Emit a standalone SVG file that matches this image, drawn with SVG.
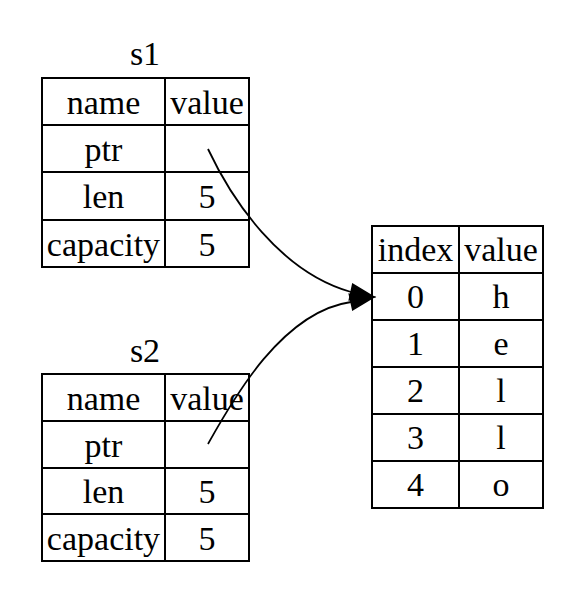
<svg xmlns="http://www.w3.org/2000/svg" width="571" height="597" viewBox="0 0 571 597">
<style>
.bg{fill:#ffffff}
.cell{fill:none;stroke:#000;stroke-width:2}
.t{font-family:"Liberation Serif","Times New Roman",serif;font-size:34px;fill:#000;text-anchor:middle}
.edge{fill:none;stroke:#000;stroke-width:1.8}
.head{fill:#000;stroke:#000;stroke-width:1.5}
</style>
<rect class="bg" x="0" y="0" width="571" height="597"/>
<g id="s1">
<text class="t" x="145" y="65">s1</text>
<rect class="cell" x="42" y="78" width="207" height="189"/>
<line class="cell" x1="165" y1="78" x2="165" y2="267"/>
<line class="cell" x1="42" y1="125" x2="249" y2="125"/>
<line class="cell" x1="42" y1="172" x2="249" y2="172"/>
<line class="cell" x1="42" y1="220" x2="249" y2="220"/>
<text class="t" x="103.5" y="113.5">name</text>
<text class="t" x="207" y="113.5">value</text>
<text class="t" x="103.5" y="160.5">ptr</text>
<text class="t" x="103.5" y="208">len</text>
<text class="t" x="207" y="208">5</text>
<text class="t" x="103.5" y="255.5">capacity</text>
<text class="t" x="207" y="255.5">5</text>
</g>
<g id="s2">
<text class="t" x="145" y="362">s2</text>
<rect class="cell" x="42" y="374" width="207" height="187"/>
<line class="cell" x1="165" y1="374" x2="165" y2="561"/>
<line class="cell" x1="42" y1="421" x2="249" y2="421"/>
<line class="cell" x1="42" y1="468" x2="249" y2="468"/>
<line class="cell" x1="42" y1="514" x2="249" y2="514"/>
<text class="t" x="103.5" y="409.5">name</text>
<text class="t" x="207" y="409.5">value</text>
<text class="t" x="103.5" y="456.5">ptr</text>
<text class="t" x="103.5" y="503">len</text>
<text class="t" x="207" y="503">5</text>
<text class="t" x="103.5" y="549.5">capacity</text>
<text class="t" x="207" y="549.5">5</text>
</g>
<g id="heap">
<rect class="cell" x="372" y="226" width="171" height="282"/>
<line class="cell" x1="459" y1="226" x2="459" y2="508"/>
<line class="cell" x1="372" y1="273" x2="543" y2="273"/>
<line class="cell" x1="372" y1="320" x2="543" y2="320"/>
<line class="cell" x1="372" y1="367" x2="543" y2="367"/>
<line class="cell" x1="372" y1="414" x2="543" y2="414"/>
<line class="cell" x1="372" y1="461" x2="543" y2="461"/>
<text class="t" x="415.5" y="260.5">index</text>
<text class="t" x="501" y="260.5">value</text>
<text class="t" x="415.5" y="307.5">0</text>
<text class="t" x="501" y="307.5">h</text>
<text class="t" x="415.5" y="354.5">1</text>
<text class="t" x="501" y="354.5">e</text>
<text class="t" x="415.5" y="401.5">2</text>
<text class="t" x="501" y="401.5">l</text>
<text class="t" x="415.5" y="448.5">3</text>
<text class="t" x="501" y="448.5">l</text>
<text class="t" x="415.5" y="495.5">4</text>
<text class="t" x="501" y="495.5">o</text>
</g>
<g id="connectors">
<path class="edge" d="M208,149 C232,200 280,272 351,292"/>
<polygon class="head" points="352.7,284.2 374,297 349.3,299.8"/>
<path class="edge" d="M208,444 C230,405 280,312 351,302"/>
<polygon class="head" points="349.3,294.2 374,297 352.7,309.8"/>
</g>
</svg>
